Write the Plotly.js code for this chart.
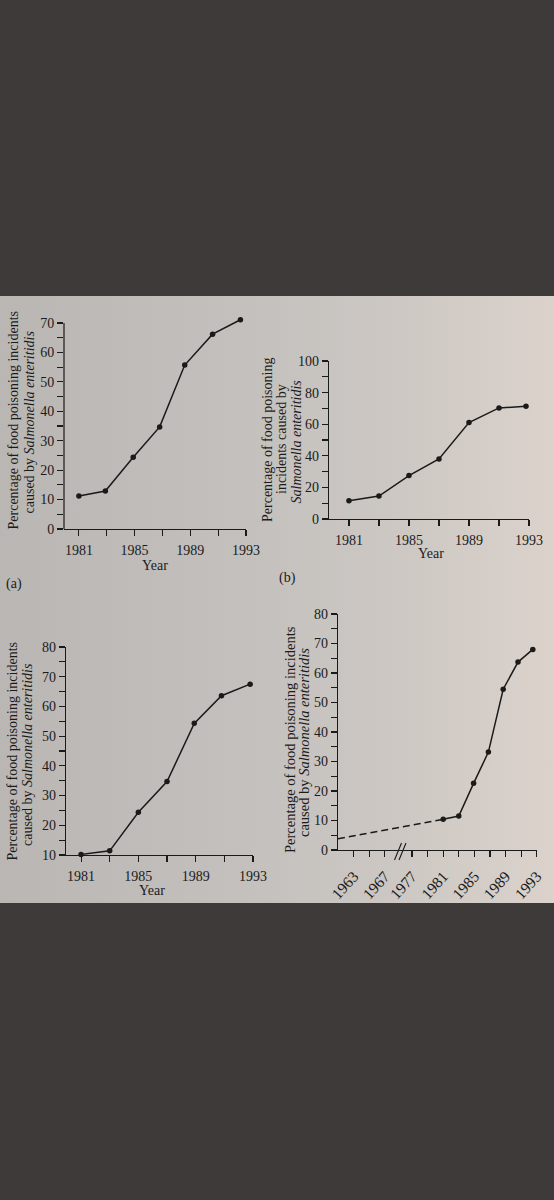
<!DOCTYPE html>
<html>
<head>
<meta charset="utf-8">
<script src="https://cdn.plot.ly/plotly-3.0.1.min.js"></script>
<style>
  html, body { margin: 0; padding: 0; background: #3e3a39; width: 554px; height: 1200px; overflow: hidden; }
  #page {
    position: absolute; left: 0; top: 296px; width: 554px; height: 607px;
    background: linear-gradient(90deg, #bab6b3 0%, #c2bfbc 40%, #ccc7c3 70%, #dbd2cb 100%);
  }
</style>
</head>
<body>
<div id="page"></div>
<script>
// ---------- data ----------
const tickYears  = [1981, 1983, 1985, 1987, 1989, 1991, 1993];
const tickLabels = ['1981', '', '1985', '', '1989', '', '1993'];

// (a)
const yearsA = [1981, 1982.9, 1984.9, 1986.8, 1988.6, 1990.6, 1992.6];
const pctA   = [11.2, 12.9, 24.4, 34.7, 55.7, 66.2, 71.1];
// (b)
const yearsB = [1981, 1983, 1985, 1987, 1989, 1991, 1992.8];
const pctB   = [11.5, 14.5, 27.5, 38.0, 61.0, 70.3, 71.3];
// (c)
const yearsC = [1981, 1983, 1985, 1987, 1988.9, 1990.8, 1992.8];
const pctC   = [10.2, 11.4, 24.4, 34.7, 54.3, 63.6, 67.5];
// (d)
const yearsDdash = [1961, 1981];
const pctDdash   = [3.8, 10.4];
const yearsD = [1981, 1983, 1984.9, 1986.8, 1988.7, 1990.6, 1992.5];
const pctD   = [10.4, 11.5, 22.6, 33.2, 54.5, 63.7, 68.0];
const tickYearsD  = [1963, 1965, 1967, 1977, 1979, 1981, 1983, 1985, 1987, 1989, 1991, 1993];
const tickLabelsD = ['1963', '', '1967', '1977', '', '1981', '', '1985', '', '1989', '', '1993'];

// axis break for (d): years after the gap are pulled left
const brk = y => (y < 1970 ? y : y - 6.5);

// ---------- helpers ----------
const W = 554, H = 607, TOP = 296;
const X = v => v / W;
const Y = v => 1 - (v - TOP) / H;
const INK = '#1a1a1a';
const TXT = '#1b1b1b';
const FONT = 'Liberation Serif, Times New Roman, serif';
const FS = 14;

function xax(domain, range, tv, tt, extra) {
  return Object.assign({
    domain: domain, range: range, showgrid: false, zeroline: false,
    showline: true, linecolor: INK, linewidth: 1.2, mirror: false,
    ticks: 'outside', ticklen: 6, tickwidth: 1.1, tickcolor: INK,
    tickvals: tv, ticktext: tt, tickangle: 0, ticklabelstandoff: 2,
    tickfont: {family: FONT, size: FS, color: TXT}, fixedrange: true
  }, extra || {});
}
function yax(domain, range, dtick, minor, extra) {
  return Object.assign({
    domain: domain, range: range, showgrid: false, zeroline: false,
    showline: true, linecolor: INK, linewidth: 1.2,
    ticks: 'outside', ticklen: 6, tickwidth: 1.1, tickcolor: INK,
    tick0: 0, dtick: dtick,
    minor: {dtick: minor, tick0: 0, ticks: 'outside', ticklen: 6, tickwidth: 1.1, tickcolor: INK, showgrid: false},
    tickfont: {family: FONT, size: FS, color: TXT}, fixedrange: true
  }, extra || {});
}
function line(x, y, xa, ya, dash) {
  return {
    x: x, y: y, xaxis: xa, yaxis: ya, type: 'scatter',
    mode: dash ? 'lines' : 'lines+markers',
    line: {color: INK, width: 1.5, dash: dash || 'solid'},
    marker: {color: INK, size: 5.5}, cliponaxis: false, hoverinfo: 'skip'
  };
}

const data = [
  line(yearsA, pctA, 'x', 'y'),
  line(yearsB, pctB, 'x2', 'y2'),
  line(yearsC, pctC, 'x3', 'y3'),
  line(yearsDdash.map(brk), pctDdash, 'x4', 'y4', '7px,4px'),
  line(yearsD.map(brk), pctD, 'x4', 'y4')
];

const ann = (x, y, text, angle, size) => ({
  xref: 'paper', yref: 'paper', x: X(x), y: Y(y), text: text, showarrow: false,
  xanchor: 'center', yanchor: 'middle', textangle: angle || 0,
  font: {family: FONT, size: size || FS, color: TXT}
});

const layout = {
  width: W, height: H,
  margin: {l: 0, r: 0, t: 0, b: 0},
  paper_bgcolor: 'rgba(0,0,0,0)', plot_bgcolor: 'rgba(0,0,0,0)',
  showlegend: false,
  // (a)
  xaxis:  xax([X(64), X(246)], [1979.93, 1993], tickYears, tickLabels, {anchor: 'y'}),
  yaxis:  yax([Y(529), Y(317.1)], [0, 72], 10, 5, {anchor: 'x', showline: false}),
  // (b)
  xaxis2: xax([X(329), X(529)], [1979.67, 1993], tickYears, tickLabels, {anchor: 'y2'}),
  yaxis2: yax([Y(519), Y(361)], [0, 100], 20, 10, {anchor: 'x2'}),
  // (c)
  xaxis3: xax([X(66), X(253)], [1979.95, 1993], tickYears, tickLabels, {anchor: 'y3'}),
  yaxis3: yax([Y(855), Y(647)], [10, 80], 10, 5, {anchor: 'x3', tick0: 10}),
  // (d)
  xaxis4: xax([X(338), X(536.7)], [1961, brk(1993)], tickYearsD.map(brk), tickLabelsD,
              {anchor: 'y4', tickangle: -48, ticklabelstandoff: 4,
               tickfont: {family: FONT, size: 15.5, color: TXT}}),
  yaxis4: yax([Y(850), Y(614)], [0, 80], 10, 5, {anchor: 'x4'}),
  shapes: [
    // (a) y axis line stops at 70
    {type: 'line', xref: 'paper', yref: 'y', x0: X(64), x1: X(64), y0: 0, y1: 70,
     line: {color: INK, width: 1.2}},
    // (d) axis break marks
    {type: 'line', xref: 'paper', yref: 'paper', x0: X(394.5), y0: Y(860), x1: X(401.5), y1: Y(843),
     line: {color: INK, width: 1.1}},
    {type: 'line', xref: 'paper', yref: 'paper', x0: X(399), y0: Y(860), x1: X(406), y1: Y(843),
     line: {color: INK, width: 1.1}}
  ],
  annotations: [
    // (a)
    ann(12.5, 420, 'Percentage of food poisoning incidents', -90),
    ann(28.5, 422, 'caused by <i>Salmonella enteritidis</i>', -90),
    ann(155, 565, 'Year'),
    ann(14, 584, '(a)'),
    // (b)
    ann(268, 440, 'Percentage of food poisoning', -90),
    ann(282, 439, 'incidents caused by', -90),
    ann(295.5, 442, '<i>Salmonella enteritidis</i>', -90),
    ann(431, 553, 'Year'),
    ann(287, 578, '(b)'),
    // (c)
    ann(12.5, 751, 'Percentage of food poisoning incidents', -90),
    ann(28, 755, 'caused by <i>Salmonella enteritidis</i>', -90),
    ann(152, 890, 'Year'),
    // (d)
    ann(290, 740, 'Percentage of food poisoning incidents', -90, 14.5),
    ann(304, 743, 'caused by <i>Salmonella enteritidis</i>', -90, 14.5),
    ann(419, 909, 'Year', 0, 14.5),
    ann(278, 909, '(d)', 0, 14.5)
  ]
};

Plotly.newPlot('page', data, layout, {staticPlot: true, displayModeBar: false});
</script>
</body>
</html>
